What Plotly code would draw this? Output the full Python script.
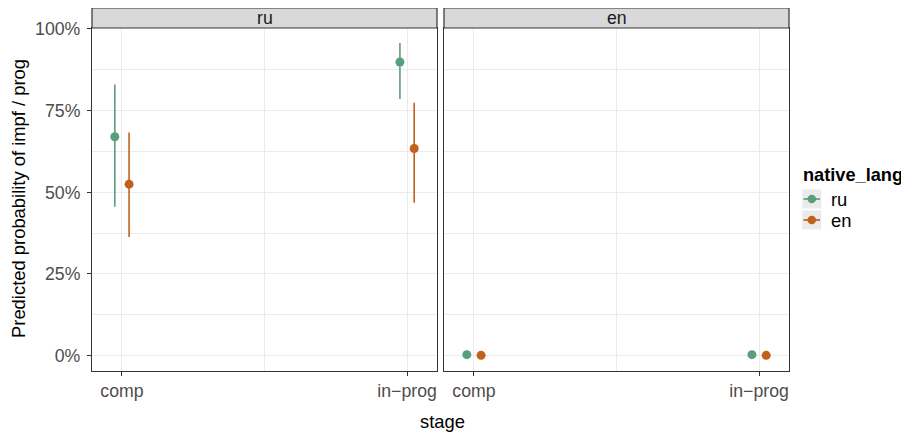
import plotly.graph_objects as go

# ---------------- data ----------------
stages = ["comp", "in\u2212prog"]
stage_pos = [1, 2]
panels = ["ru", "en"]          # facet: target language
groups = ["ru", "en"]          # native_lang
colors = {"ru": "#5b9e7c", "en": "#c3611c"}
offsets = {"ru": -0.025, "en": 0.025}

# predicted probability (fraction) and CI, per panel -> native_lang -> [comp, in-prog]
est = {
    "ru": {"ru": [0.670, 0.899], "en": [0.525, 0.634]},
    "en": {"ru": [0.003, 0.003], "en": [0.001, 0.001]},
}
lower = {
    "ru": {"ru": [0.456, 0.786], "en": [0.363, 0.468]},
    "en": {"ru": [0.003, 0.003], "en": [0.001, 0.001]},
}
upper = {
    "ru": {"ru": [0.830, 0.957], "en": [0.683, 0.774]},
    "en": {"ru": [0.003, 0.003], "en": [0.001, 0.001]},
}

y_ticks = [0, 0.25, 0.5, 0.75, 1.0]

# ---------------- layout geometry ----------------
# the page body has an 8px margin, so the figure is drawn 8px smaller and
# reference-pixel positions are shifted by OFF
OFF = 8
W, H = 909 - OFF, 434 - OFF
ML, MR, MT, MB = 84, 120, 0, 63
PW = W - ML - MR
PH = H - MT - MB
strip_h = 20
panel_top = 1 - strip_h / PH
dom_left = [0, 345 / PW]
dom_right = [352 / PW, 1]


def px(xref):
    return (xref - OFF - ML) / PW


def py(yref):
    return (H - MB - (yref - OFF)) / PH


FONT = "Liberation Sans, Arial, Helvetica, sans-serif"
fig = go.Figure()

axes = [("x", "y"), ("x2", "y2")]
for pi, panel in enumerate(panels):
    xa, ya = axes[pi]
    for g in groups:
        e = est[panel][g]
        lo = lower[panel][g]
        up = upper[panel][g]
        fig.add_trace(go.Scatter(
            x=[p + offsets[g] for p in stage_pos], y=e,
            mode="markers", name=g,
            marker=dict(color=colors[g], size=9),
            error_y=dict(type="data", symmetric=False,
                         array=[u - v for u, v in zip(up, e)],
                         arrayminus=[v - l for v, l in zip(e, lo)],
                         color=colors[g], thickness=1.6, width=0),
            xaxis=xa, yaxis=ya, showlegend=False, hoverinfo="x+y"))

xcommon = dict(
    range=[0.895, 2.105], tickmode="array", tickvals=stage_pos, ticktext=stages,
    showgrid=True, gridcolor="#EBEBEB", gridwidth=1.1,
    minor=dict(tickvals=[1.5], showgrid=True, gridcolor="#EBEBEB", gridwidth=0.6, ticks=""),
    ticks="outside", ticklen=4, tickcolor="#333333", tickwidth=1.1,
    showline=True, linecolor="#333333", linewidth=1.2, mirror=True, automargin=False,
    zeroline=False, tickfont=dict(family=FONT, size=17.7, color="#4D4D4D"),
)
ycommon = dict(
    range=[-0.047, 1.003], tickmode="array", tickvals=y_ticks, tickformat=".0%",
    showgrid=True, gridcolor="#EBEBEB", gridwidth=1.1,
    minor=dict(tickvals=[0.125, 0.375, 0.625, 0.875], showgrid=True,
               gridcolor="#EBEBEB", gridwidth=0.6, ticks=""),
    showline=True, linecolor="#333333", linewidth=1.2, mirror=True, automargin=False,
    zeroline=False, tickfont=dict(family=FONT, size=17.7, color="#4D4D4D"),
)

fig.update_layout(
    width=W, height=H,
    margin=dict(l=ML, r=MR, t=MT, b=MB, pad=0),
    plot_bgcolor="white", paper_bgcolor="white",
    font=dict(family=FONT, size=18, color="black"),
    xaxis=dict(domain=dom_left, anchor="y", **xcommon),
    xaxis2=dict(domain=dom_right, anchor="y2", **xcommon),
    yaxis=dict(domain=[0, panel_top], anchor="x", ticks="outside", ticklen=4,
               tickcolor="#333333", tickwidth=1.1, showticklabels=True,
               ticklabelstandoff=3, **ycommon),
    yaxis2=dict(domain=[0, panel_top], anchor="x2", ticks="", showticklabels=False,
                matches="y", **ycommon),
    showlegend=False,
)

# axis titles
fig.add_annotation(text="stage", xref="paper", yref="paper", x=px(443), y=py(421),
                   showarrow=False, font=dict(family=FONT, size=18.4, color="black"),
                   xanchor="center", yanchor="middle")
fig.add_annotation(text="Predicted probability of impf / prog", xref="paper", yref="paper",
                   x=px(18), y=py(199), textangle=-90, showarrow=False,
                   font=dict(family=FONT, size=18.4, color="black"),
                   xanchor="center", yanchor="middle")

# facet strips
for dom, lab in zip([dom_left, dom_right], panels):
    fig.add_shape(type="rect", xref="paper", yref="paper", x0=dom[0], x1=dom[1],
                  y0=panel_top, y1=1, fillcolor="#D9D9D9",
                  line=dict(color="#333333", width=1.2), layer="above")
    fig.add_annotation(text=lab, xref="paper", yref="paper", x=(dom[0] + dom[1]) / 2,
                       y=(panel_top + 1) / 2, showarrow=False, xanchor="center", yanchor="middle",
                       font=dict(family=FONT, size=17.7, color="#1A1A1A"))

# legend (drawn manually, ggplot style)
fig.add_annotation(text="<b>native_lang</b>", xref="paper", yref="paper", x=px(800.5), y=py(175),
                   showarrow=False, xanchor="left", yanchor="middle",
                   font=dict(family=FONT, size=18.2, color="black"))
key_top = [189.5, 210.5]
for g, kt in zip(groups, key_top):
    kb = kt + 19
    cy = (kt + kb) / 2
    fig.add_shape(type="rect", xref="paper", yref="paper", x0=px(802.3), x1=px(821.3),
                  y0=py(kb), y1=py(kt), fillcolor="#EBEBEB", line=dict(width=0))
    fig.add_shape(type="line", xref="paper", yref="paper", x0=px(803.5), x1=px(820),
                  y0=py(cy), y1=py(cy), line=dict(color=colors[g], width=1.7))
    fig.add_shape(type="circle", xref="paper", yref="paper", x0=px(811.8 - 4.3), x1=px(811.8 + 4.3),
                  y0=py(cy + 4.3), y1=py(cy - 4.3), fillcolor=colors[g], line=dict(width=0))
    fig.add_annotation(text=g, xref="paper", yref="paper", x=px(829), y=py(cy),
                       showarrow=False, xanchor="left", yanchor="middle",
                       font=dict(family=FONT, size=18.4, color="black"))

fig.write_html("out.html")
